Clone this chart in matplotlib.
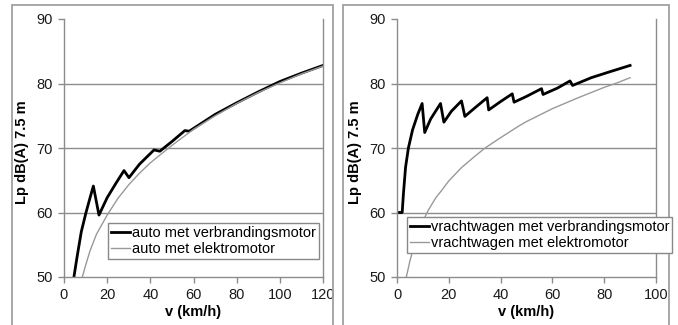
import matplotlib
matplotlib.use("Agg")
import matplotlib.pyplot as plt
from matplotlib.patches import Rectangle

plt.rcParams['font.family'] = ['Liberation Sans', 'DejaVu Sans']

# --- data ---
car_comb_v = [4.6, 6, 8, 10.2, 12, 13.6, 16.2, 20, 24, 27.8, 30.1, 35, 41.7, 44.4,
              50, 56, 58, 70, 80, 90, 100, 110, 120]
car_comb_lp = [50, 53, 57, 60, 62.2, 64.1, 59.6, 62.3, 64.5, 66.5, 65.4, 67.5, 69.7, 69.5,
               71.0, 72.7, 72.6, 75.2, 77.0, 78.7, 80.3, 81.6, 82.8]

car_elec_v = [8.5, 10, 12, 15, 20, 25, 30, 35, 40, 47, 50, 60, 70, 80, 90, 100, 110, 120]
car_elec_lp = [50, 51.8, 54, 56.6, 59.6, 62.2, 64.3, 66.1, 67.7, 69.6, 70.4, 72.9, 75.0,
               76.9, 78.6, 80.1, 81.5, 82.7]

truck_comb_v = [0, 2.0, 2.5, 3.3, 4.4, 6, 8, 9.7, 10.7, 13, 16.8, 18.1, 21, 24.9, 26.2,
                30, 34.8, 35.4, 40, 44.5, 45.2, 50, 55.8, 56.4, 62, 66.8, 67.8, 75, 82, 90]
truck_comb_lp = [60, 60, 63, 67, 70, 72.8, 75.2, 76.9, 72.4, 74.5, 76.9, 74.0, 75.7, 77.3, 74.9,
                 76.2, 77.8, 75.9, 77.2, 78.4, 77.1, 78.0, 79.2, 78.3, 79.3, 80.4, 79.7, 80.9,
                 81.8, 82.8]

truck_elec_v = [3.6, 5, 7, 9, 12, 15, 17, 20, 25, 30, 34, 40, 47, 50, 60, 70, 80, 85, 90]
truck_elec_lp = [50, 52.5, 55.5, 57.8, 60.3, 62.3, 63.3, 64.9, 67.0, 68.7, 70.0, 71.6, 73.4,
                 74.1, 76.1, 77.8, 79.4, 80.1, 80.9]

panels = [
    dict(comb=(car_comb_v, car_comb_lp), elec=(car_elec_v, car_elec_lp),
         labels=['auto met verbrandingsmotor', 'auto met elektromotor'],
         xmax=120, xstep=20),
    dict(comb=(truck_comb_v, truck_comb_lp), elec=(truck_elec_v, truck_elec_lp),
         labels=['vrachtwagen met verbrandingsmotor', 'vrachtwagen met elektromotor'],
         xmax=100, xstep=20),
]

W, H = 678, 325
fig = plt.figure(figsize=(W / 100, H / 100), dpi=100)

# outer chart frames (pixel boxes)
for x0, x1 in [(12, 333), (343, 669)]:
    fig.patches.append(Rectangle((x0 / W, -0.05), (x1 - x0) / W, 1.05 - 5 / H,
                                 transform=fig.transFigure, fill=False,
                                 edgecolor='#a0a0a0', lw=1.3))

axes_px = [(64, 323), (397, 656)]
legend_px = [(108, 223), (407, 217)]
ylabel_x = [22, 355]
grid_col = '#8c8c8c'
fs = 10.5

for p, (ax0, ax1), (lx, ly), yx in zip(panels, axes_px, legend_px, ylabel_x):
    ax = fig.add_axes([ax0 / W, (H - 277) / H, (ax1 - ax0) / W, (277 - 19) / H])
    l1, = ax.plot(*p['comb'], color='black', lw=2.0, label=p['labels'][0])
    l2, = ax.plot(*p['elec'], color='#999999', lw=1.0, label=p['labels'][1])
    ax.set_xlim(0, p['xmax'])
    ax.set_ylim(50, 90)
    ax.set_xticks(range(0, p['xmax'] + 1, p['xstep']))
    ax.set_yticks([50, 60, 70, 80, 90])
    for g in [60, 70, 80]:
        ax.axhline(g, color=grid_col, lw=1.0, zorder=0)
    ax.spines['top'].set_visible(False)
    for s in ['left', 'bottom', 'right']:
        ax.spines[s].set_color(grid_col)
        ax.spines[s].set_linewidth(1.0)
    ax.tick_params(direction='out', length=4, width=1, color=grid_col,
                   labelsize=fs, labelcolor='#1a1a1a', pad=4)
    ax.set_xlabel('v (km/h)', fontsize=fs, fontweight='bold', labelpad=2)
    fig.text(yx / W, 1 - 152 / H, 'Lp dB(A) 7.5 m', rotation=90, fontsize=fs,
             fontweight='bold', ha='center', va='center')
    fig.legend(handles=[l1, l2], loc='upper left',
               bbox_to_anchor=(lx / W, 1 - ly / H), fontsize=fs,
               frameon=True, fancybox=False, edgecolor='#888888',
               framealpha=1, handlelength=1.3, handletextpad=0.15,
               borderpad=0.2, labelspacing=0.15, borderaxespad=0)

fig.savefig('out.png', dpi=100)
